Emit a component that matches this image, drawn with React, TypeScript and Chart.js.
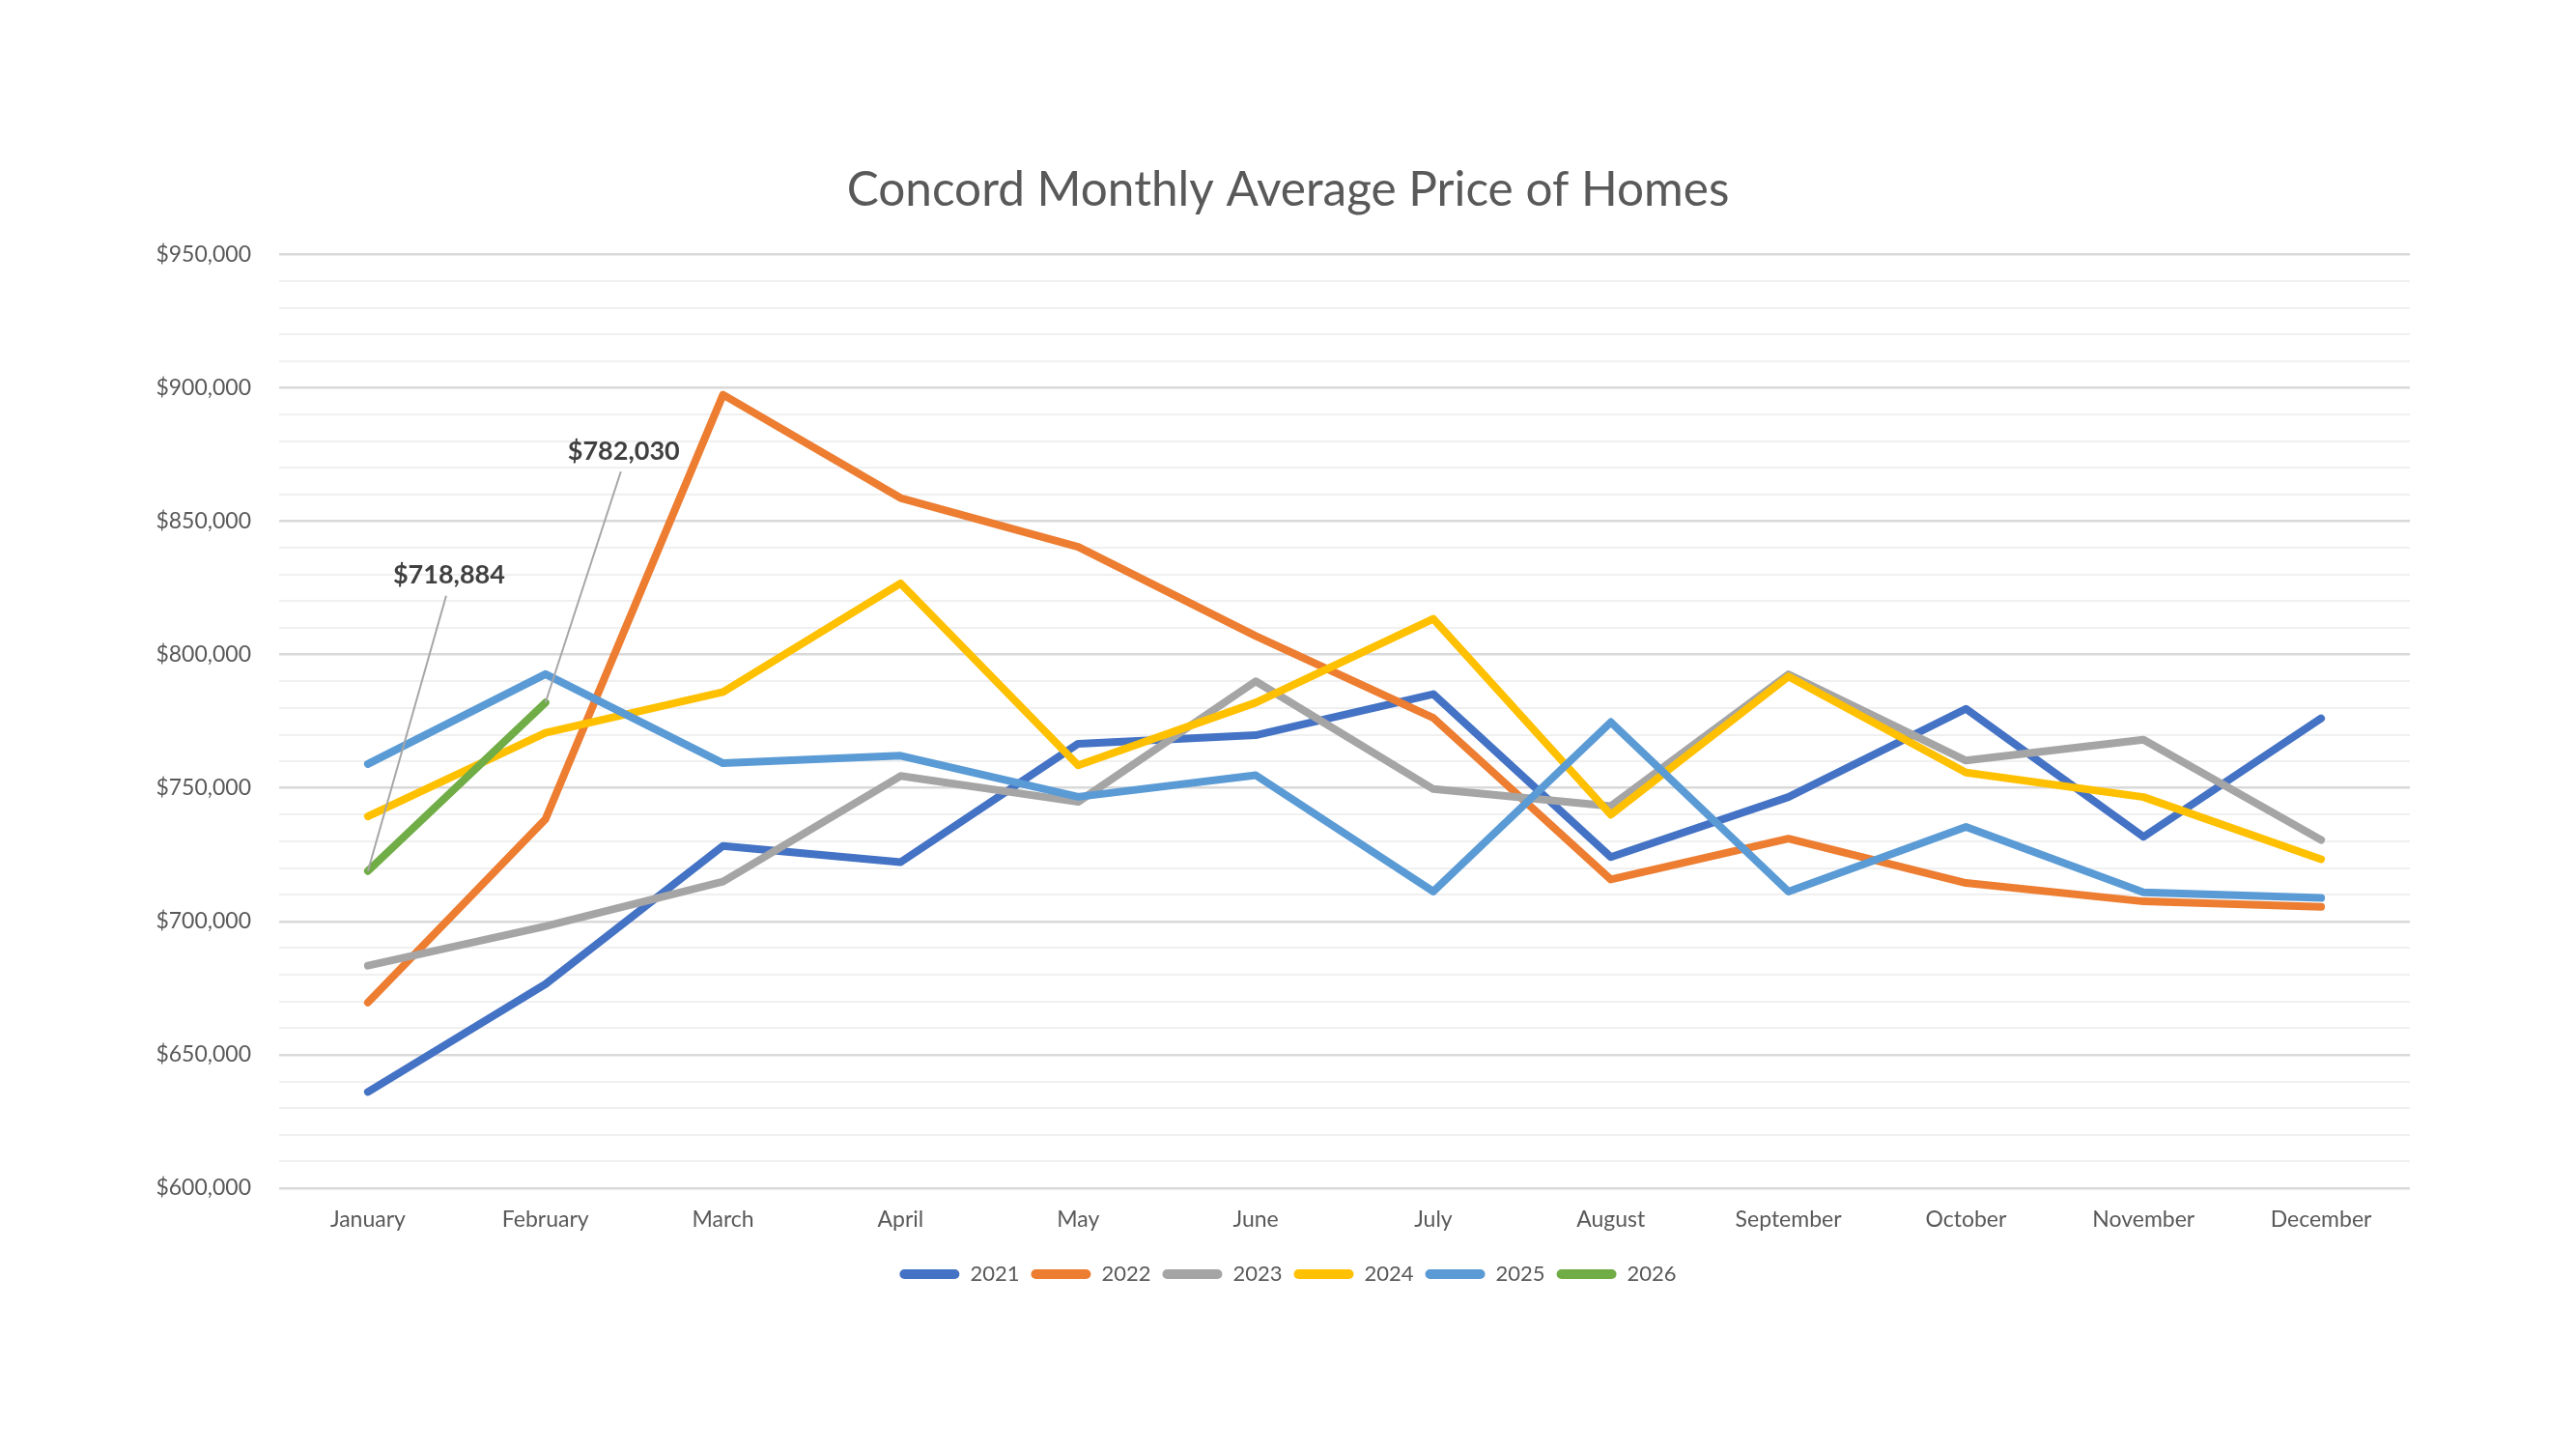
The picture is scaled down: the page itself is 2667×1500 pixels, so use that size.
import React, { useEffect, useRef } from "react";
import { Chart, registerables } from "chart.js";

Chart.register(...registerables);

const MONTHS = [
  "January", "February", "March", "April", "May", "June",
  "July", "August", "September", "October", "November", "December",
];
const YEARS = ["2021", "2022", "2023", "2024", "2025", "2026"];

const Y2021 = [636100, 676500, 728300, 722200, 766600, 769800, 785200, 724100, 746600, 779700, 731700, 776100];
const Y2022 = [669600, 738300, 897400, 858700, 840400, 807000, 776300, 715700, 731000, 714400, 707500, 705500];
const Y2023 = [683400, 698200, 714900, 754500, 744800, 790000, 749600, 743200, 792600, 760300, 768100, 730500];
const Y2024 = [739400, 770700, 786000, 826700, 758500, 782000, 813400, 740000, 791800, 755800, 746600, 723300];
const Y2025 = [759000, 792700, 759300, 762100, 746700, 754800, 711200, 774700, 711200, 735400, 710900, 708800];
const Y2026 = [718884, 782030];

const SERIES = [Y2021, Y2022, Y2023, Y2024, Y2025, Y2026];
const COLORS = ["#4472C4", "#ED7D31", "#A5A5A5", "#FFC000", "#5B9BD5", "#70AD47"];

const TITLE = "Concord Monthly Average Price of Homes";
const Y_MIN = 600000;
const Y_MAX = 950000;
const Y_STEP = 10000;
const Y_LABEL_STEP = 50000;

// callout label positions relative to their data point (pixels)
const CALLOUT_OFFSETS = [
  { dx: 84, dy: -306 },
  { dx: 81, dy: -260 },
];

const FONT = "Lato, 'Open Sans', sans-serif";
const TEXT_COLOR = "#595959";

const fmtMoney = (v: number) => "$" + Math.round(v).toLocaleString("en-US");

const calloutPlugin = {
  id: "callouts",
  afterDatasetsDraw(chart: any) {
    const idx = SERIES.length - 1;
    const meta = chart.getDatasetMeta(idx);
    const ctx = chart.ctx;
    meta.data.forEach((pt: any, i: number) => {
      const off = CALLOUT_OFFSETS[i];
      if (!off) return;
      const lx = pt.x + off.dx;
      const ly = pt.y + off.dy;
      ctx.save();
      ctx.strokeStyle = "#A6A6A6";
      ctx.lineWidth = 2;
      ctx.beginPath();
      ctx.moveTo(lx - 3, ly + 21);
      ctx.lineTo(pt.x, pt.y);
      ctx.stroke();
      ctx.font = `bold 27px ${FONT}`;
      ctx.fillStyle = "#404040";
      ctx.textAlign = "center";
      ctx.textBaseline = "middle";
      ctx.fillText(fmtMoney(SERIES[idx][i]), lx, ly);
      ctx.restore();
    });
  },
};

export default function App() {
  const canvasRef = useRef<HTMLCanvasElement>(null);

  useEffect(() => {
    if (!canvasRef.current) return;
    const chart = new Chart(canvasRef.current, {
      type: "line",
      data: {
        labels: MONTHS,
        datasets: SERIES.map((s, i) => ({
          label: YEARS[i],
          data: s,
          yAxisID: "y",
          borderColor: COLORS[i],
          backgroundColor: COLORS[i],
          borderWidth: 8,
          pointRadius: 0,
          pointHoverRadius: 0,
          tension: 0,
          fill: false,
          borderJoinStyle: "round" as const,
          borderCapStyle: "round" as const,
          order: SERIES.length - i,
        })),
      },
      options: {
        animation: false,
        responsive: false,
        devicePixelRatio: 1,
        events: [],
        layout: { padding: { left: 0, right: 0, top: 0, bottom: 160 } },
        plugins: {
          title: {
            display: true,
            text: TITLE,
            color: TEXT_COLOR,
            font: { family: FONT, size: 49.5, weight: "normal" },
            padding: { top: 167, bottom: 37 },
          },
          legend: {
            display: true,
            position: "bottom",
            labels: {
              color: TEXT_COLOR,
              font: { family: FONT, size: 22 },
              boxWidth: 62,
              boxHeight: 10,
              padding: 12,
              useBorderRadius: true,
              borderRadius: 5,
              generateLabels: (chart: any) =>
                chart.data.datasets.map((ds: any, i: number) => ({
                  text: ds.label,
                  fillStyle: ds.borderColor,
                  strokeStyle: ds.borderColor,
                  lineWidth: 0,
                  hidden: false,
                  datasetIndex: i,
                  fontColor: TEXT_COLOR,
                  borderRadius: 5,
                })),
            },
          },
          tooltip: { enabled: false },
        },
        scales: {
          x: {
            offset: true,
            grid: { display: false, drawTicks: false },
            border: { display: false },
            ticks: {
              color: TEXT_COLOR,
              font: { family: FONT, size: 23 },
              padding: 19,
              autoSkip: false,
              maxRotation: 0,
            },
            afterFit: (scale: any) => {
              scale.height = 66;
            },
          },
          y: {
            position: "left",
            min: Y_MIN,
            max: Y_MAX,
            border: { display: false },
            grid: {
              drawTicks: false,
              color: (c: any) => (c.tick && c.tick.value % Y_LABEL_STEP === 0 ? "#D9D9D9" : "#F0F0F0"),
              lineWidth: (c: any) => (c.tick && c.tick.value % Y_LABEL_STEP === 0 ? 2.5 : 2),
            },
            ticks: {
              stepSize: Y_STEP,
              maxTicksLimit: 100,
              autoSkip: false,
              color: TEXT_COLOR,
              font: { family: FONT, size: 23 },
              padding: 29,
              callback: (v: any) => (Number(v) % Y_LABEL_STEP === 0 ? fmtMoney(Number(v)) : ""),
            },
            afterFit: (scale: any) => {
              scale.width = 289;
            },
          },
          // empty right-hand spacer so the title and legend stay centred on the page
          spacer: {
            type: "linear",
            position: "right",
            display: true,
            grid: { display: false, drawTicks: false },
            border: { display: false },
            ticks: { display: false },
            afterFit: (scale: any) => {
              scale.width = 172;
            },
          },
        },
      },
      plugins: [calloutPlugin],
    });
    return () => chart.destroy();
  }, []);

  return (
    <div style={{ position: "absolute", left: 0, top: 0, width: 2667, height: 1500, background: "#fff" }}>
      <canvas ref={canvasRef} width={2667} height={1500} style={{ width: 2667, height: 1500, display: "block" }} />
    </div>
  );
}
